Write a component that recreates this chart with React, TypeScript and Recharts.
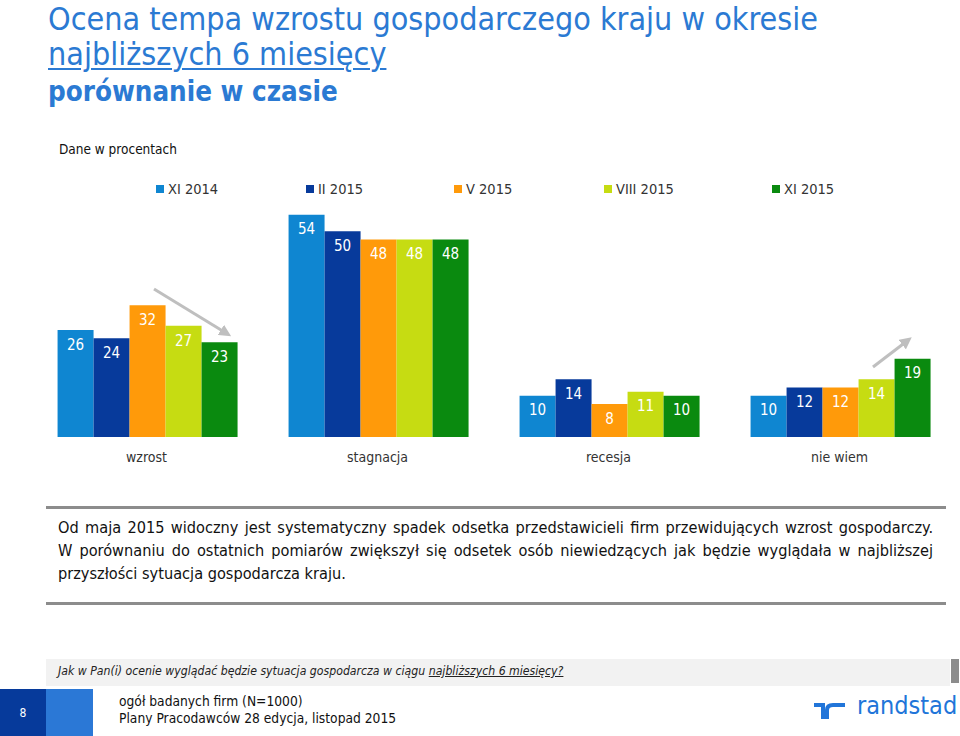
import { BarChart, Bar, XAxis, YAxis, LabelList } from 'recharts';

const categories = ['wzrost', 'stagnacja', 'recesja', 'nie wiem'];
const seriesNames = ['XI 2014', 'II 2015', 'V 2015', 'VIII 2015', 'XI 2015'];
const xi2014 = [26, 54, 10, 10];
const ii2015 = [24, 50, 14, 12];
const v2015 = [32, 48, 8, 12];
const viii2015 = [27, 48, 11, 14];
const xi2015 = [23, 48, 10, 19];

const seriesValues = [xi2014, ii2015, v2015, viii2015, xi2015];
const colors = ['#0F86D1', '#073A9B', '#FF9A0A', '#C6DC12', '#0A8A0F'];
const legendLeft = [156, 306, 454, 604, 772];

const data = categories.map((c, i) => {
  const row: Record<string, string | number> = { name: c };
  seriesNames.forEach((s, j) => {
    row[s] = seriesValues[j][i];
  });
  return row;
});

const FONT = "Tahoma, 'DejaVu Sans Condensed', 'DejaVu Sans', sans-serif";
const BLUE = '#2B7AD3';

export default function App() {
  return (
    <div style={{ position: 'relative', width: 960, height: 736, background: '#fff', fontFamily: FONT, overflow: 'hidden' }}>
      <style>{'body{margin:0}'}</style>

      {/* title */}
      <div style={{ position: 'absolute', left: 48, top: 2, fontSize: 32, lineHeight: '34px', color: BLUE, whiteSpace: 'nowrap' }}>
        Ocena tempa wzrostu gospodarczego kraju w okresie
      </div>
      <div style={{ position: 'absolute', left: 48, top: 37, fontSize: 32, lineHeight: '34px', color: BLUE, whiteSpace: 'nowrap', textDecoration: 'underline', textDecorationThickness: 2, textUnderlineOffset: 3 }}>
        najbliższych 6 miesięcy
      </div>
      <div style={{ position: 'absolute', left: 48, top: 74, fontSize: 27.5, lineHeight: '34px', fontWeight: 700, color: BLUE, whiteSpace: 'nowrap' }}>
        porównanie w czasie
      </div>
      <div style={{ position: 'absolute', left: 59, top: 141, fontSize: 13.5, color: '#111' }}>Dane w procentach</div>

      {/* legend */}
      {seriesNames.map((s, i) => (
        <div key={s} style={{ position: 'absolute', left: legendLeft[i], top: 181, display: 'flex', alignItems: 'center', fontSize: 14.5, color: '#333', whiteSpace: 'nowrap' }}>
          <span style={{ display: 'inline-block', width: 8, height: 8, background: colors[i], marginRight: 4 }} />
          {s}
        </div>
      ))}

      <div style={{ position: 'absolute', left: 0, top: 0 }}>
        <BarChart width={960} height={470} data={data} margin={{ top: 190, right: 5, left: 31, bottom: 8 }} barCategoryGap="11.5%" barGap={0}>
          <XAxis dataKey="name" axisLine={false} tickLine={false} height={25} tickMargin={9} tick={{ fill: '#333', fontSize: 14, fontFamily: FONT }} interval={0} />
          <YAxis hide domain={[0, 60]} />
          {seriesNames.map((s, i) => (
            <Bar key={s} dataKey={s} fill={colors[i]} isAnimationActive={false}>
              <LabelList dataKey={s} position="insideTop" offset={9} fill="#fff" fontSize={15} fontFamily={FONT} />
            </Bar>
          ))}
        </BarChart>
      </div>

      {/* trend arrows */}
      <svg width={960} height={736} style={{ position: 'absolute', left: 0, top: 0, pointerEvents: 'none' }}>
        <defs>
          <marker id="ah" markerWidth="4" markerHeight="4" refX="2" refY="2" orient="auto" markerUnits="strokeWidth">
            <path d="M0,0 L4,2 L0,4 z" fill="#BFBFBF" />
          </marker>
        </defs>
        <line x1={154} y1={289} x2={226} y2={333} stroke="#BFBFBF" strokeWidth={3} markerEnd="url(#ah)" />
        <line x1={873} y1={367} x2={907} y2={341} stroke="#BFBFBF" strokeWidth={3} markerEnd="url(#ah)" />
        {/* rules */}
        <rect x={46} y={506} width={900} height={3} fill="#8C8C8C" />
        <rect x={46} y={602} width={900} height={3} fill="#8C8C8C" />
      </svg>

      {/* comment */}
      <div style={{ position: 'absolute', left: 58, top: 516, width: 875, fontSize: 16.2, lineHeight: '23px', color: '#111' }}>
        <div style={{ textAlign: 'justify', textAlignLast: 'justify' }}>
          Od maja 2015 widoczny jest systematyczny spadek odsetka przedstawicieli firm przewidujących wzrost gospodarczy.
        </div>
        <div style={{ textAlign: 'justify', textAlignLast: 'justify' }}>
          W porównaniu do ostatnich pomiarów zwiększył się odsetek osób niewiedzących jak będzie wyglądała w najbliższej
        </div>
        <div>przyszłości sytuacja gospodarcza kraju.</div>
      </div>

      {/* question band */}
      <div style={{ position: 'absolute', left: 46, top: 659, width: 904, height: 27, background: '#F2F2F2' }} />
      <div style={{ position: 'absolute', left: 951, top: 659, width: 8, height: 24, background: '#8C8C8C' }} />
      <div style={{ position: 'absolute', left: 58, top: 664, fontSize: 12.2, fontStyle: 'italic', color: '#222', whiteSpace: 'nowrap' }}>
        Jak w Pan(i) ocenie wyglądać będzie sytuacja gospodarcza w ciągu <span style={{ textDecoration: 'underline' }}>najbliższych 6 miesięcy?</span>
      </div>

      {/* footer */}
      <div style={{ position: 'absolute', left: 0, top: 689, width: 46, height: 47, background: '#063A9B', color: '#fff', fontSize: 12, display: 'flex', alignItems: 'center', justifyContent: 'center' }}>8</div>
      <div style={{ position: 'absolute', left: 46, top: 689, width: 47, height: 47, background: '#2B78D6' }} />
      <div style={{ position: 'absolute', left: 119, top: 693, fontSize: 13.7, lineHeight: '17px', color: '#111', whiteSpace: 'nowrap' }}>
        <div>ogół badanych firm (N=1000)</div>
        <div>Plany Pracodawców 28 edycja, listopad 2015</div>
      </div>
      <svg width={36} height={20} style={{ position: 'absolute', left: 813, top: 701 }}>
        <path d="M1,4 H10 V18" stroke="#2175D9" strokeWidth={4} fill="none" />
        <path d="M14,18 V9 Q14,4 20,4 H32" stroke="#2175D9" strokeWidth={4} fill="none" />
      </svg>
      <div style={{ position: 'absolute', left: 857, top: 691, fontSize: 25, lineHeight: '30px', color: '#2175D9', fontFamily: "'DejaVu Sans Condensed', sans-serif", whiteSpace: 'nowrap' }}>
        randstad
      </div>
    </div>
  );
}
